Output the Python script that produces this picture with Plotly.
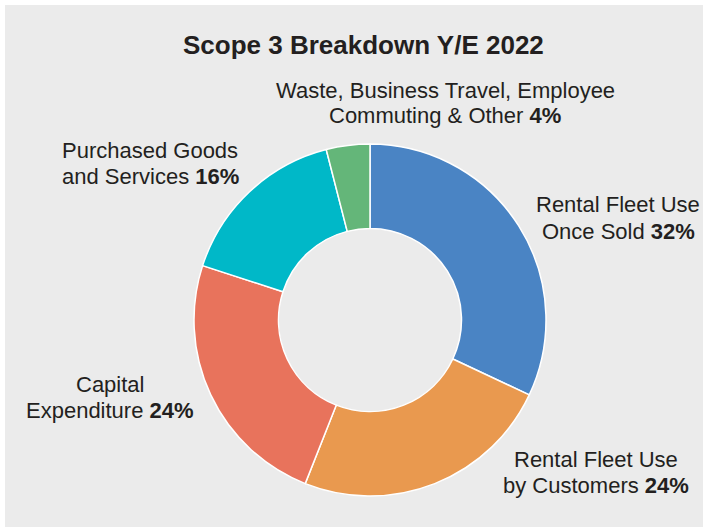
import plotly.graph_objects as go

# slices, clockwise from 12 o'clock
categories = [
    "Rental Fleet Use Once Sold",
    "Rental Fleet Use by Customers",
    "Capital Expenditure",
    "Purchased Goods and Services",
    "Waste, Business Travel, Employee Commuting & Other",
]
shares = [32, 24, 24, 16, 4]
colors = ["#4a84c4", "#e9994f", "#e8735c", "#00b8c8", "#64b679"]

# label text: first line, second line (share is added in bold)
label_lines = [
    ("Rental Fleet Use", "Once Sold"),
    ("Rental Fleet Use", "by Customers"),
    ("Capital", "Expenditure"),
    ("Purchased Goods", "and Services"),
    ("Waste, Business Travel, Employee", "Commuting & Other"),
]
# label centres in pixels (x, y from top)
label_pos = [(618, 218), (596, 472), (110, 397), (150, 163), (445, 103)]

W, H = 703, 527
BG = "#ebebeb"
TXT = "#231f20"
LINE_GAP = 26


def px(x, y):
    return x / W, 1 - y / H


fig = go.Figure()

fig.add_trace(go.Pie(
    labels=categories,
    values=shares,
    sort=False,
    direction="clockwise",
    rotation=0,
    hole=0.52,
    marker=dict(colors=colors, line=dict(color="white", width=1.5)),
    textinfo="none",
    hoverinfo="label+percent",
    domain=dict(x=[194 / W, 546 / W], y=[1 - 496 / H, 1 - 144 / H]),
    showlegend=False,
))

# gray panel behind everything
fig.add_shape(type="rect", xref="paper", yref="paper",
              x0=5 / W, x1=1, y0=0, y1=1 - 5 / H,
              fillcolor=BG, line=dict(width=0), layer="below")

tx, ty = px(363, 45)
fig.add_annotation(text="<b>Scope 3 Breakdown Y/E 2022</b>", x=tx, y=ty,
                   xref="paper", yref="paper", showarrow=False,
                   xanchor="center", yanchor="middle",
                   font=dict(size=26, color=TXT))

for (l1, l2), share, (x, y) in zip(label_lines, shares, label_pos):
    for text, yy in [(l1, y - LINE_GAP / 2), (f"{l2} <b>{share}%</b>", y + LINE_GAP / 2)]:
        ax, ay = px(x, yy)
        fig.add_annotation(text=text, x=ax, y=ay,
                           xref="paper", yref="paper", showarrow=False,
                           xanchor="center", yanchor="middle",
                           font=dict(size=22, color=TXT))

fig.update_layout(
    width=W, height=H,
    margin=dict(l=0, r=0, t=0, b=0),
    paper_bgcolor="white",
    plot_bgcolor="white",
    font=dict(family="Liberation Sans, Arial, sans-serif", color=TXT),
)

fig.write_html("out.html",
               config={"displayModeBar": False},
               post_script="document.body.style.margin='0';"
                           "document.body.style.overflow='hidden';")
